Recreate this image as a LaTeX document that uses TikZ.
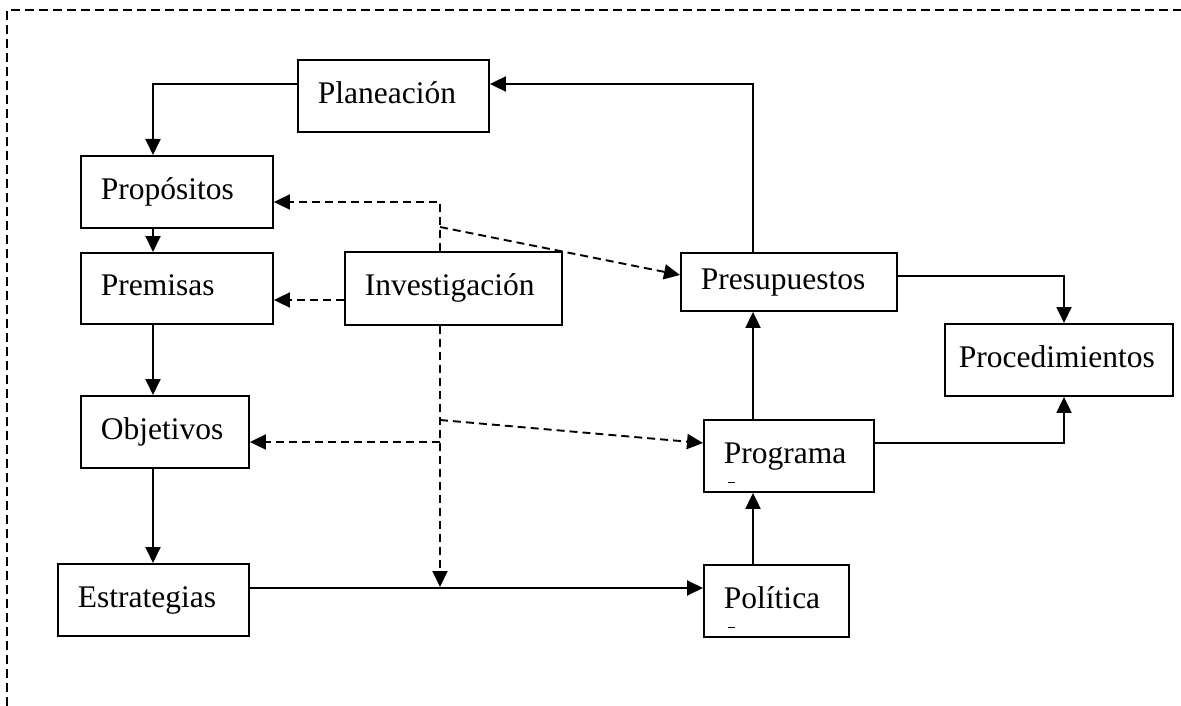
\documentclass[tikz,border=0pt]{standalone}
\usepackage{fontspec}
\setmainfont{Liberation Serif}
\usetikzlibrary{arrows.meta,calc}
\begin{document}
\begin{tikzpicture}[x=1pt,y=-1pt,
  box/.style={draw,line width=1.9pt,anchor=north west,align=left,
    inner xsep=20pt,inner ysep=0pt,text height=22pt,text depth=7pt,
    font=\fontsize{31.5}{36}\selectfont},
  link/.style={line width=1.9pt,-{Triangle[length=16pt,width=15pt]}},
  hint/.style={link,dash pattern=on 8pt off 5pt},
  frame/.style={line width=1.5pt,dash pattern=on 9pt off 5pt}]
\useasboundingbox (0,0) rectangle (1181,706);

% outer dashed frame (top and left edges)
\coordinate (fa) at (7,706);
\coordinate (fb) at (7,10);
\coordinate (fc) at (1181,10);
\draw[frame] (fa) -- (fb) -- (fc);

% boxes
\node[box,text width=151pt,minimum height=72pt] (plan) at (297,59) {Planeación};
\node[box,text width=152pt,minimum height=72pt] (prop) at (80,155) {Propósitos};
\node[box,text width=152pt,minimum height=71pt] (prem) at (80,252) {Premisas};
\node[box,text width=128pt,minimum height=72pt] (obj) at (80,395) {Objetivos};
\node[box,text width=151pt,minimum height=72pt] (estr) at (57,563) {Estrategias};
\node[box,text width=177pt,minimum height=73pt] (inv) at (344,251) {Investigación};
\node[box,text width=176pt,minimum height=58pt] (pres) at (680,252) {Presupuestos};
\node[box,inner xsep=14pt,text width=200pt,minimum height=72pt] (proc) at (944,323) {Procedimientos};
\node[box,text width=130pt,minimum height=72pt] (prog) at (703,419) {Programa};
\node[box,text width=105pt,minimum height=72pt] (pol) at (703,564) {Política};

% small marks inside Programa and Política
\draw[line width=0.8pt] ($(prog.south west)+(25,-11)$) -- ++(7,0);
\draw[line width=0.8pt] ($(pol.south west)+(25,-11)$) -- ++(7,0);

% guide coordinates
\coordinate (vx) at (753,0);
\coordinate (lx) at (153,0);
\coordinate (rx) at (1064,0);
\coordinate (ix) at (440,0);
\coordinate (ptop) at (440,202);
\coordinate (pfork) at (440,227);
\coordinate (ofork) at (440,442);
\coordinate (gfork) at (440,420);
\coordinate (sline) at (440,588);

% solid flow
\draw[link] (vx |- pres.north) |- (plan.east |- 0,84);
\draw[link] (plan.west |- 0,84) -| (lx |- prop.north);
\draw[link] (lx |- prop.south) -- (lx |- prem.north);
\draw[link] (lx |- prem.south) -- (lx |- obj.north);
\draw[link] (lx |- obj.south) -- (lx |- estr.north);
\draw[link] (estr.east |- sline) -- (pol.west |- sline);
\draw[link] (vx |- pol.north) -- (vx |- prog.south);
\draw[link] (vx |- prog.north) -- (vx |- pres.south);
\draw[link] (pres.east |- 0,276) -| (rx |- proc.north);
\draw[link] (prog.east |- 0,443) -| (rx |- proc.south);

% dashed influence of Investigación
\draw[hint] (ix |- inv.north) |- (prop.east |- ptop);
\draw[hint] (pfork) -- (pres.west |- 0,275);
\draw[hint] (inv.west |- 0,300) -- (prem.east |- 0,300);
\draw[hint] (ix |- inv.south) -- ($(sline)+(0,-1)$);
\draw[hint] (ofork) -- (obj.east |- ofork);
\draw[hint] (gfork) -- (prog.west |- 0,443);
\end{tikzpicture}
\end{document}
